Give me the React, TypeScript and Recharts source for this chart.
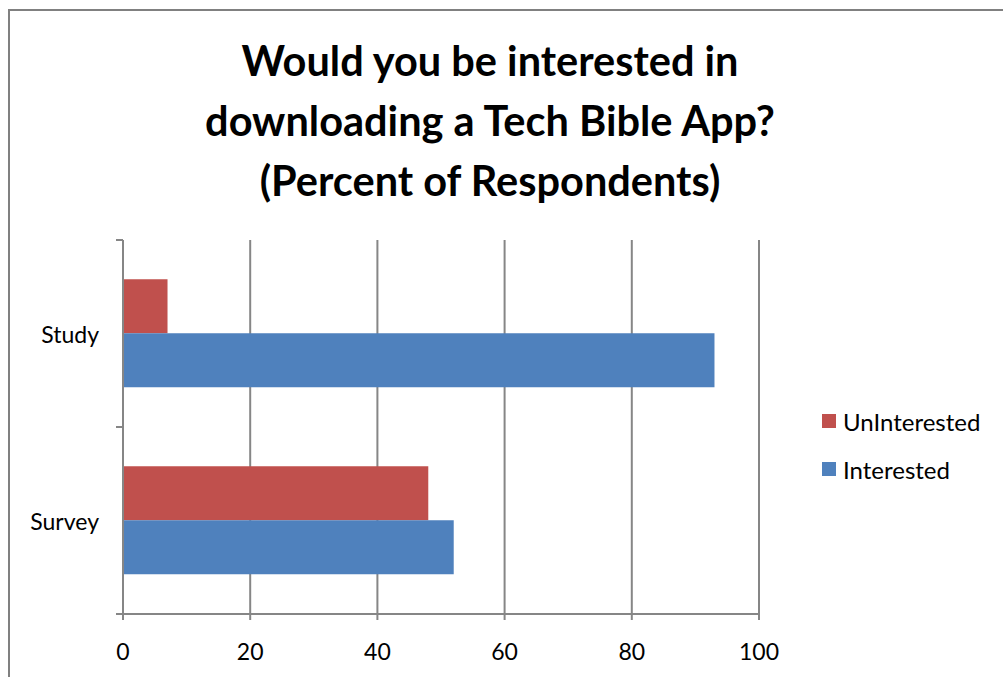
import { BarChart, Bar, XAxis, YAxis, CartesianGrid } from 'recharts';

// Survey results, percent of respondents
const categories = ['Study', 'Survey'];
const unInterested = [7, 48];
const interested = [93, 52];
const xTicks = [0, 20, 40, 60, 80, 100];

const RED = '#C0504D';
const BLUE = '#4F81BD';
const GRID = '#868686';
const FONT = 'Lato, "Open Sans", sans-serif';

const W = 1003;
const H = 677;
const X_AXIS_H = 50;
const margin = { top: 240, right: 244, bottom: 63 - X_AXIS_H, left: 23 };
const Y_TICK_SIZE = 6;
const Y_TICK_MARGIN = 18;

const data = categories.map((name, i) => ({
    name,
    UnInterested: unInterested[i],
    Interested: interested[i],
}));

// half of one category band, used for Excel-style tick marks between categories
const bandHalf = (H - margin.top - margin.bottom - X_AXIS_H) / categories.length / 2;

const CategoryTick = ({ x, y, payload }: any) => {
    const axisX = x + Y_TICK_SIZE + Y_TICK_MARGIN;
    const isLast = payload.index === categories.length - 1;
    return (
        <g>
            <text x={x} y={y} textAnchor="end" dominantBaseline="central"
                fontSize={23} fontFamily={FONT} fill="#000">
                {payload.value}
            </text>
            <line x1={axisX - 7} x2={axisX} y1={y - bandHalf} y2={y - bandHalf} stroke={GRID} strokeWidth={2} />
            {isLast && (
                <line x1={axisX - 7} x2={axisX} y1={y + bandHalf} y2={y + bandHalf} stroke={GRID} strokeWidth={2} />
            )}
        </g>
    );
};

const legendItems = [
    { label: 'UnInterested', color: RED },
    { label: 'Interested', color: BLUE },
];

export default function App() {
    return (
        <div style={{ position: 'absolute', left: 0, top: 0, width: W, height: H, background: '#fff', overflow: 'hidden' }}>
            {/* chart frame */}
            <div style={{
                position: 'absolute', left: 8, top: 9, width: W, height: H,
                borderLeft: '2px solid #808080', borderTop: '2px solid #808080',
            }} />

            {/* Title */}
            <div style={{
                position: 'absolute', left: 0, top: 30, width: 980, textAlign: 'center',
                fontFamily: FONT, fontWeight: 'bold', fontSize: 41.5, lineHeight: '60px', color: '#000',
            }}>
                Would you be interested in<br />
                downloading a Tech Bible App?<br />
                (Percent of Respondents)
            </div>

            <div style={{ position: 'absolute', left: 0, top: 0 }}>
                <BarChart width={W} height={H} data={data} layout="vertical" margin={margin}
                    barCategoryGap="21%" barGap={0}>
                    <CartesianGrid horizontal={false} stroke={GRID} strokeWidth={2} />
                    <XAxis type="number" domain={[0, 100]} ticks={xTicks} interval={0} height={X_AXIS_H}
                        stroke={GRID} strokeWidth={2} tickSize={6} tickMargin={24}
                        tick={{ fontSize: 23, fontFamily: FONT, fill: '#000' }} />
                    <YAxis type="category" dataKey="name" width={100}
                        stroke={GRID} strokeWidth={2} tickLine={false}
                        tickSize={Y_TICK_SIZE} tickMargin={Y_TICK_MARGIN} tick={<CategoryTick />} />
                    <Bar dataKey="UnInterested" fill={RED} isAnimationActive={false} />
                    <Bar dataKey="Interested" fill={BLUE} isAnimationActive={false} />
                </BarChart>
            </div>

            {/* Legend */}
            <div style={{ position: 'absolute', left: 822, top: 397, fontFamily: FONT, fontSize: 24, color: '#000' }}>
                {legendItems.map(item => (
                    <div key={item.label} style={{ display: 'flex', alignItems: 'center', height: 48 }}>
                        <span style={{ width: 14, height: 14, background: item.color, marginRight: 7 }} />
                        <span>{item.label}</span>
                    </div>
                ))}
            </div>
        </div>
    );
}
